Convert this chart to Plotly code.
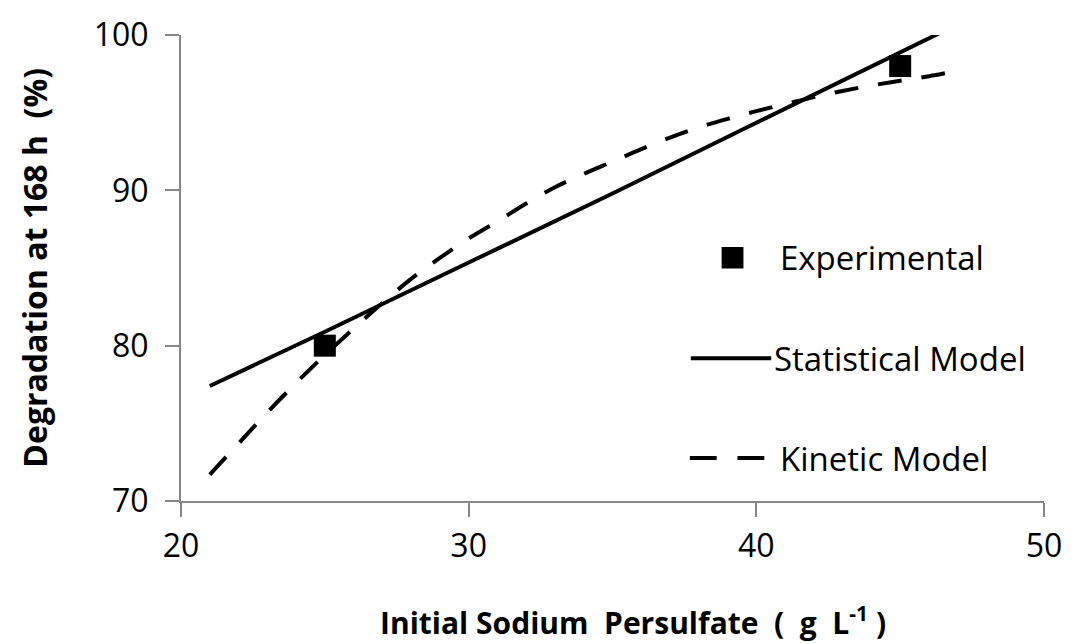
import plotly.graph_objects as go

# ---- data ----
exp_x = [25, 45]
exp_y = [80.0, 98.0]

stat_x = [21, 25, 30, 35, 40, 45, 48]
stat_y = [77.4, 80.9, 85.35, 89.8, 94.35, 98.9, 101.6]

kin_x = [21, 22, 23, 24, 25, 26, 27, 28, 29, 30, 31, 32, 33, 34, 35, 36, 37,
         38, 39, 40, 41, 42, 43, 44, 45, 46, 47]
kin_y = [71.7, 73.7, 75.7, 77.6, 79.4, 81.1, 82.75, 84.3, 85.65, 86.9, 88.0,
         89.15, 90.2, 91.05, 91.85, 92.65, 93.4, 94.05, 94.6, 95.1, 95.55,
         96.0, 96.4, 96.75, 97.05, 97.35, 97.7]

x_ticks = [20, 30, 40, 50]
y_ticks = [70, 80, 90, 100]

legend_names = ["Experimental", "Statistical Model", "Kinetic Model"]

# ---- layout geometry (pixels) ----
W, H = 1074, 644
L, R, T, B = 181, 23, 24, 143
PW, PH = W - L - R, H - T - B

def px(xp):
    return (xp - L) / PW

def py(yp):
    return (H - B - yp) / PH

FONT = "Open Sans"
AXIS_GRAY = "#878787"

fig = go.Figure()

fig.add_trace(go.Scatter(x=stat_x, y=stat_y, mode="lines", name=legend_names[1],
                         line=dict(color="black", width=4), showlegend=False))
fig.add_trace(go.Scatter(x=kin_x, y=kin_y, mode="lines", name=legend_names[2],
                         line=dict(color="black", width=4, dash="24px,20px", shape="spline"),
                         showlegend=False))
fig.add_trace(go.Scatter(x=exp_x, y=exp_y, mode="markers", name=legend_names[0],
                         marker=dict(symbol="square", size=22, color="black"),
                         showlegend=False, cliponaxis=False))

axis_common = dict(showgrid=False, zeroline=False, showline=True, linecolor=AXIS_GRAY,
                   linewidth=2, ticks="outside", ticklen=14, tickwidth=2, tickcolor=AXIS_GRAY,
                   tickfont=dict(family=FONT, size=32, color="black"), mirror=False)

fig.update_xaxes(range=[20, 50], tickvals=x_ticks, ticklabelstandoff=2, **axis_common)
fig.update_yaxes(range=[70, 100], tickvals=y_ticks, ticklabelstandoff=10, **axis_common)

annotations = [
    dict(text="Initial\u00a0Sodium\u00a0\u00a0Persulfate\u00a0\u00a0(\u00a0\u00a0g\u00a0\u00a0L<sup>-1</sup>\u00a0)",
         xref="paper", yref="paper", x=px(637), y=py(624), xanchor="center", yanchor="middle",
         showarrow=False, font=dict(family=FONT, size=30, color="black", weight="bold")),
    dict(text="Degradation\u00a0at\u00a0168\u00a0h\u00a0\u00a0(%)", textangle=-90,
         xref="paper", yref="paper", x=px(33), y=py(262), xanchor="center", yanchor="middle",
         showarrow=False, font=dict(family=FONT, size=32, color="black", weight="bold")),
]

# manual legend (text + sample symbols)
leg_rows = [(252, 783), (355, 777), (457, 783)]
for (yrow, xtext), name in zip(leg_rows, legend_names):
    annotations.append(dict(text=name, xref="paper", yref="paper", x=px(xtext), y=py(yrow),
                            xanchor="left", yanchor="middle", showarrow=False,
                            font=dict(family=FONT, size=33, color="black")))

shapes = [
    dict(type="rect", xref="paper", yref="paper", x0=px(726), x1=px(748),
         y0=py(263), y1=py(241), fillcolor="black", line=dict(width=0)),
    dict(type="line", xref="paper", yref="paper", x0=px(695), x1=px(776),
         y0=py(355), y1=py(355), line=dict(color="black", width=4)),
    dict(type="line", xref="paper", yref="paper", x0=px(694), x1=px(721),
         y0=py(457), y1=py(457), line=dict(color="black", width=4)),
    dict(type="line", xref="paper", yref="paper", x0=px(742), x1=px(769),
         y0=py(457), y1=py(457), line=dict(color="black", width=4)),
]

fig.update_layout(width=W, height=H, margin=dict(l=L, r=R, t=T, b=B),
                  paper_bgcolor="white", plot_bgcolor="white",
                  annotations=annotations, shapes=shapes, showlegend=False)

fig.write_html("out.html")
